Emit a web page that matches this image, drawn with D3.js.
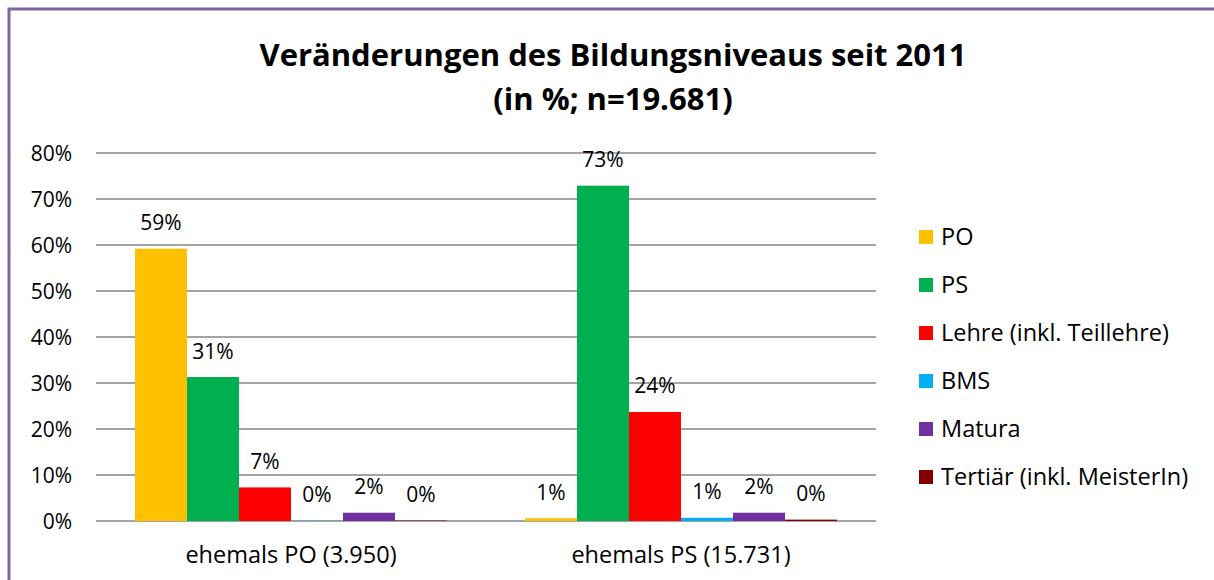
<!DOCTYPE html>
<html><head><meta charset="utf-8">
<script src="https://cdn.jsdelivr.net/npm/d3@7"></script>
<style>html,body{margin:0;padding:0;background:#fff;}svg{display:block;}</style>
</head><body>
<svg id="c" width="1214" height="580"></svg>
<script>
const categories = ["ehemals PO (3.950)", "ehemals PS (15.731)"];
const seriesNames = ["PO", "PS", "Lehre (inkl. Teillehre)", "BMS", "Matura", "Tertiär (inkl. MeisterIn)"];
const seriesColors = ["#FFC000", "#00B050", "#FF0000", "#00B0F0", "#7030A0", "#800000"];
const valuesPO = [59.2, 31.3, 7.3, 0.05, 1.8, 0.1];
const valuesPS = [0.6, 72.9, 23.7, 0.7, 1.8, 0.3];
const dataLabels = [["59%", "31%", "7%", "0%", "2%", "0%"], ["1%", "73%", "24%", "1%", "2%", "0%"]];
const yTicks = [0, 10, 20, 30, 40, 50, 60, 70, 80];
const titleLines = ["Veränderungen des Bildungsniveaus seit 2011", "(in %; n=19.681)"];

const values = [valuesPO, valuesPS];
const font = "'Open Sans', sans-serif";
const fsNum = 21, fsText = 23.5;
const svg = d3.select("#c");

// frame
svg.append("rect").attr("x", 9).attr("y", 9).attr("width", 1300).attr("height", 700)
  .attr("fill", "#fff").attr("stroke", "#8064A2").attr("stroke-width", 3);

const pLeft = 96, pRight = 876, pTop = 153, pBottom = 521;
const y = d3.scaleLinear().domain([0, 80]).range([pBottom, pTop]);
const x0 = d3.scaleBand().domain(categories).range([pLeft, pRight]).padding(0);
const x1 = d3.scaleBand().domain(seriesNames).range([0, x0.bandwidth()]).paddingInner(0).paddingOuter(0.75);

// gridlines
svg.append("g").selectAll("line").data(yTicks).join("line")
  .attr("x1", pLeft).attr("x2", pRight)
  .attr("y1", d => y(d)).attr("y2", d => y(d))
  .attr("stroke", "#868686").attr("stroke-width", 1.3);

// y axis labels
const yAxis = d3.axisLeft(y).tickValues(yTicks).tickFormat(d => d + "%").tickSize(0).tickPadding(0);
const ya = svg.append("g").attr("transform", `translate(${72},0)`).call(yAxis);
ya.select(".domain").remove();
ya.selectAll("text").attr("font-family", font).attr("font-size", fsNum).attr("fill", "#000").attr("dy", "0.35em");

// bars
const groups = svg.append("g").selectAll("g").data(categories).join("g")
  .attr("transform", d => `translate(${x0(d)},0)`);
groups.each(function(cat, gi) {
  const g = d3.select(this);
  const vals = values[gi].map((v, i) => ({v, i, name: seriesNames[i], label: dataLabels[gi][i]}));
  g.selectAll("rect").data(vals).join("rect")
    .attr("x", d => x1(d.name)).attr("width", x1.bandwidth())
    .attr("y", d => y(d.v)).attr("height", d => y(0) - y(d.v))
    .attr("fill", d => seriesColors[d.i]);
  g.selectAll("text").data(vals).join("text")
    .attr("x", d => x1(d.name) + x1.bandwidth() / 2)
    .attr("y", d => y(d.v) - 18.5)
    .attr("text-anchor", "middle").attr("font-family", font).attr("font-size", fsNum).attr("fill", "#000")
    .text(d => d.label);
});

// x axis labels
const xAxis = d3.axisBottom(x0).tickSize(0).tickPadding(0);
const xa = svg.append("g").attr("transform", `translate(0,${pBottom})`).call(xAxis);
xa.select(".domain").remove();
xa.selectAll("text").attr("font-family", font).attr("font-size", fsText).attr("fill", "#000").attr("dy", 0).attr("y", 42);

// title
svg.append("g").selectAll("text").data(titleLines).join("text")
  .attr("x", 613).attr("y", (d, i) => 66 + i * 44)
  .attr("text-anchor", "middle").attr("font-family", font).attr("font-weight", "bold")
  .attr("font-size", 31).attr("fill", "#000").text(d => d);

// legend
const lg = svg.append("g").selectAll("g").data(seriesNames).join("g")
  .attr("transform", (d, i) => `translate(919,${237 + i * 48})`);
lg.append("rect").attr("x", 0).attr("y", -7).attr("width", 14).attr("height", 14)
  .attr("fill", (d, i) => seriesColors[i]);
lg.append("text").attr("x", 22).attr("y", 0).attr("dy", "0.35em")
  .attr("font-family", font).attr("font-size", fsText).attr("fill", "#000").text(d => d);
</script>
</body></html>
